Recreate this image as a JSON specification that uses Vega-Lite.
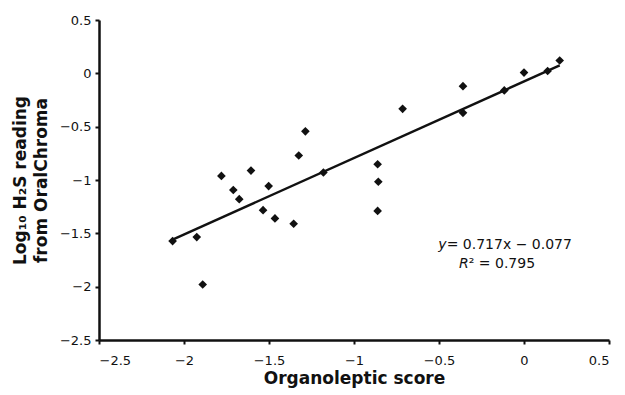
{
  "$schema": "https://vega.github.io/schema/vega-lite/v6.json",
  "width": 510,
  "height": 320,
  "autosize": "none",
  "padding": {"left": 99, "top": 20, "right": 16, "bottom": 55},
  "background": "white",
  "config": {
    "view": {"stroke": null},
    "font": "DejaVu Sans",
    "axis": {
      "grid": false,
      "domainColor": "#111",
      "domainWidth": 2.5,
      "tickColor": "#111",
      "tickWidth": 2,
      "tickSize": 4,
      "labelFont": "DejaVu Sans",
      "labelFontSize": 13,
      "labelColor": "#111",
      "titleFont": "DejaVu Sans",
      "titleFontSize": 17,
      "titleFontWeight": "bold",
      "titleColor": "#111",
      "format": "~f"
    }
  },
  "layer": [
    {
      "data": {"values": [
        {"x": 0.21, "y": 0.12},
        {"x": 0.139, "y": 0.022},
        {"x": 0.0, "y": 0.007},
        {"x": -0.116, "y": -0.16},
        {"x": -0.359, "y": -0.12},
        {"x": -0.359, "y": -0.37},
        {"x": -0.714, "y": -0.333},
        {"x": -1.286, "y": -0.544},
        {"x": -1.325, "y": -0.77},
        {"x": -0.861, "y": -0.852},
        {"x": -0.857, "y": -1.016},
        {"x": -0.861, "y": -1.29},
        {"x": -1.18, "y": -0.93},
        {"x": -1.78, "y": -0.962},
        {"x": -1.606, "y": -0.912},
        {"x": -1.71, "y": -1.094},
        {"x": -1.675, "y": -1.18},
        {"x": -1.502, "y": -1.057},
        {"x": -1.535, "y": -1.283},
        {"x": -1.465, "y": -1.36},
        {"x": -1.355, "y": -1.41},
        {"x": -1.925, "y": -1.535},
        {"x": -1.89, "y": -1.98},
        {"x": -2.067, "y": -1.573}
      ]},
      "mark": {"type": "point", "shape": "diamond", "filled": true, "color": "#111", "size": 75, "opacity": 1},
      "encoding": {
        "x": {"field": "x", "type": "quantitative",
              "scale": {"domain": [-2.5, 0.5], "nice": false, "zero": false},
              "axis": {"values": [-2.5, -2, -1.5, -1, -0.5, 0, 0.5], "title": "Organoleptic score", "titlePadding": 3, "labelPadding": 10}},
        "y": {"field": "y", "type": "quantitative",
              "scale": {"domain": [-2.5, 0.5], "nice": false, "zero": false},
              "axis": {"values": [-2.5, -2, -1.5, -1, -0.5, 0, 0.5], "title": ["Log₁₀ H₂S reading", "from OralChroma"], "titlePadding": 9, "labelPadding": 4, "titleLineHeight": 21}}
      }
    },
    {
      "data": {"values": [
        {"x": -2.067, "y": -1.559},
        {"x": 0.21, "y": 0.074}
      ]},
      "mark": {"type": "line", "color": "#111", "strokeWidth": 2.5},
      "encoding": {
        "x": {"field": "x", "type": "quantitative"},
        "y": {"field": "y", "type": "quantitative"}
      }
    },
    {
      "data": {"values": [
        {"x": -0.455, "y": -1.613, "t": "y"},
        {"x": -0.325, "y": -1.783, "t": "R"}
      ]},
      "mark": {"type": "text", "align": "right", "baseline": "middle", "fontStyle": "italic", "fontSize": 14, "color": "#111"},
      "encoding": {
        "x": {"field": "x", "type": "quantitative"},
        "y": {"field": "y", "type": "quantitative"},
        "text": {"field": "t"}
      }
    },
    {
      "data": {"values": [
        {"x": -0.455, "y": -1.613, "t": " = 0.717x − 0.077"},
        {"x": -0.325, "y": -1.783, "t": "² = 0.795"}
      ]},
      "mark": {"type": "text", "align": "left", "baseline": "middle", "fontSize": 14, "color": "#111"},
      "encoding": {
        "x": {"field": "x", "type": "quantitative"},
        "y": {"field": "y", "type": "quantitative"},
        "text": {"field": "t"}
      }
    }
  ]
}
